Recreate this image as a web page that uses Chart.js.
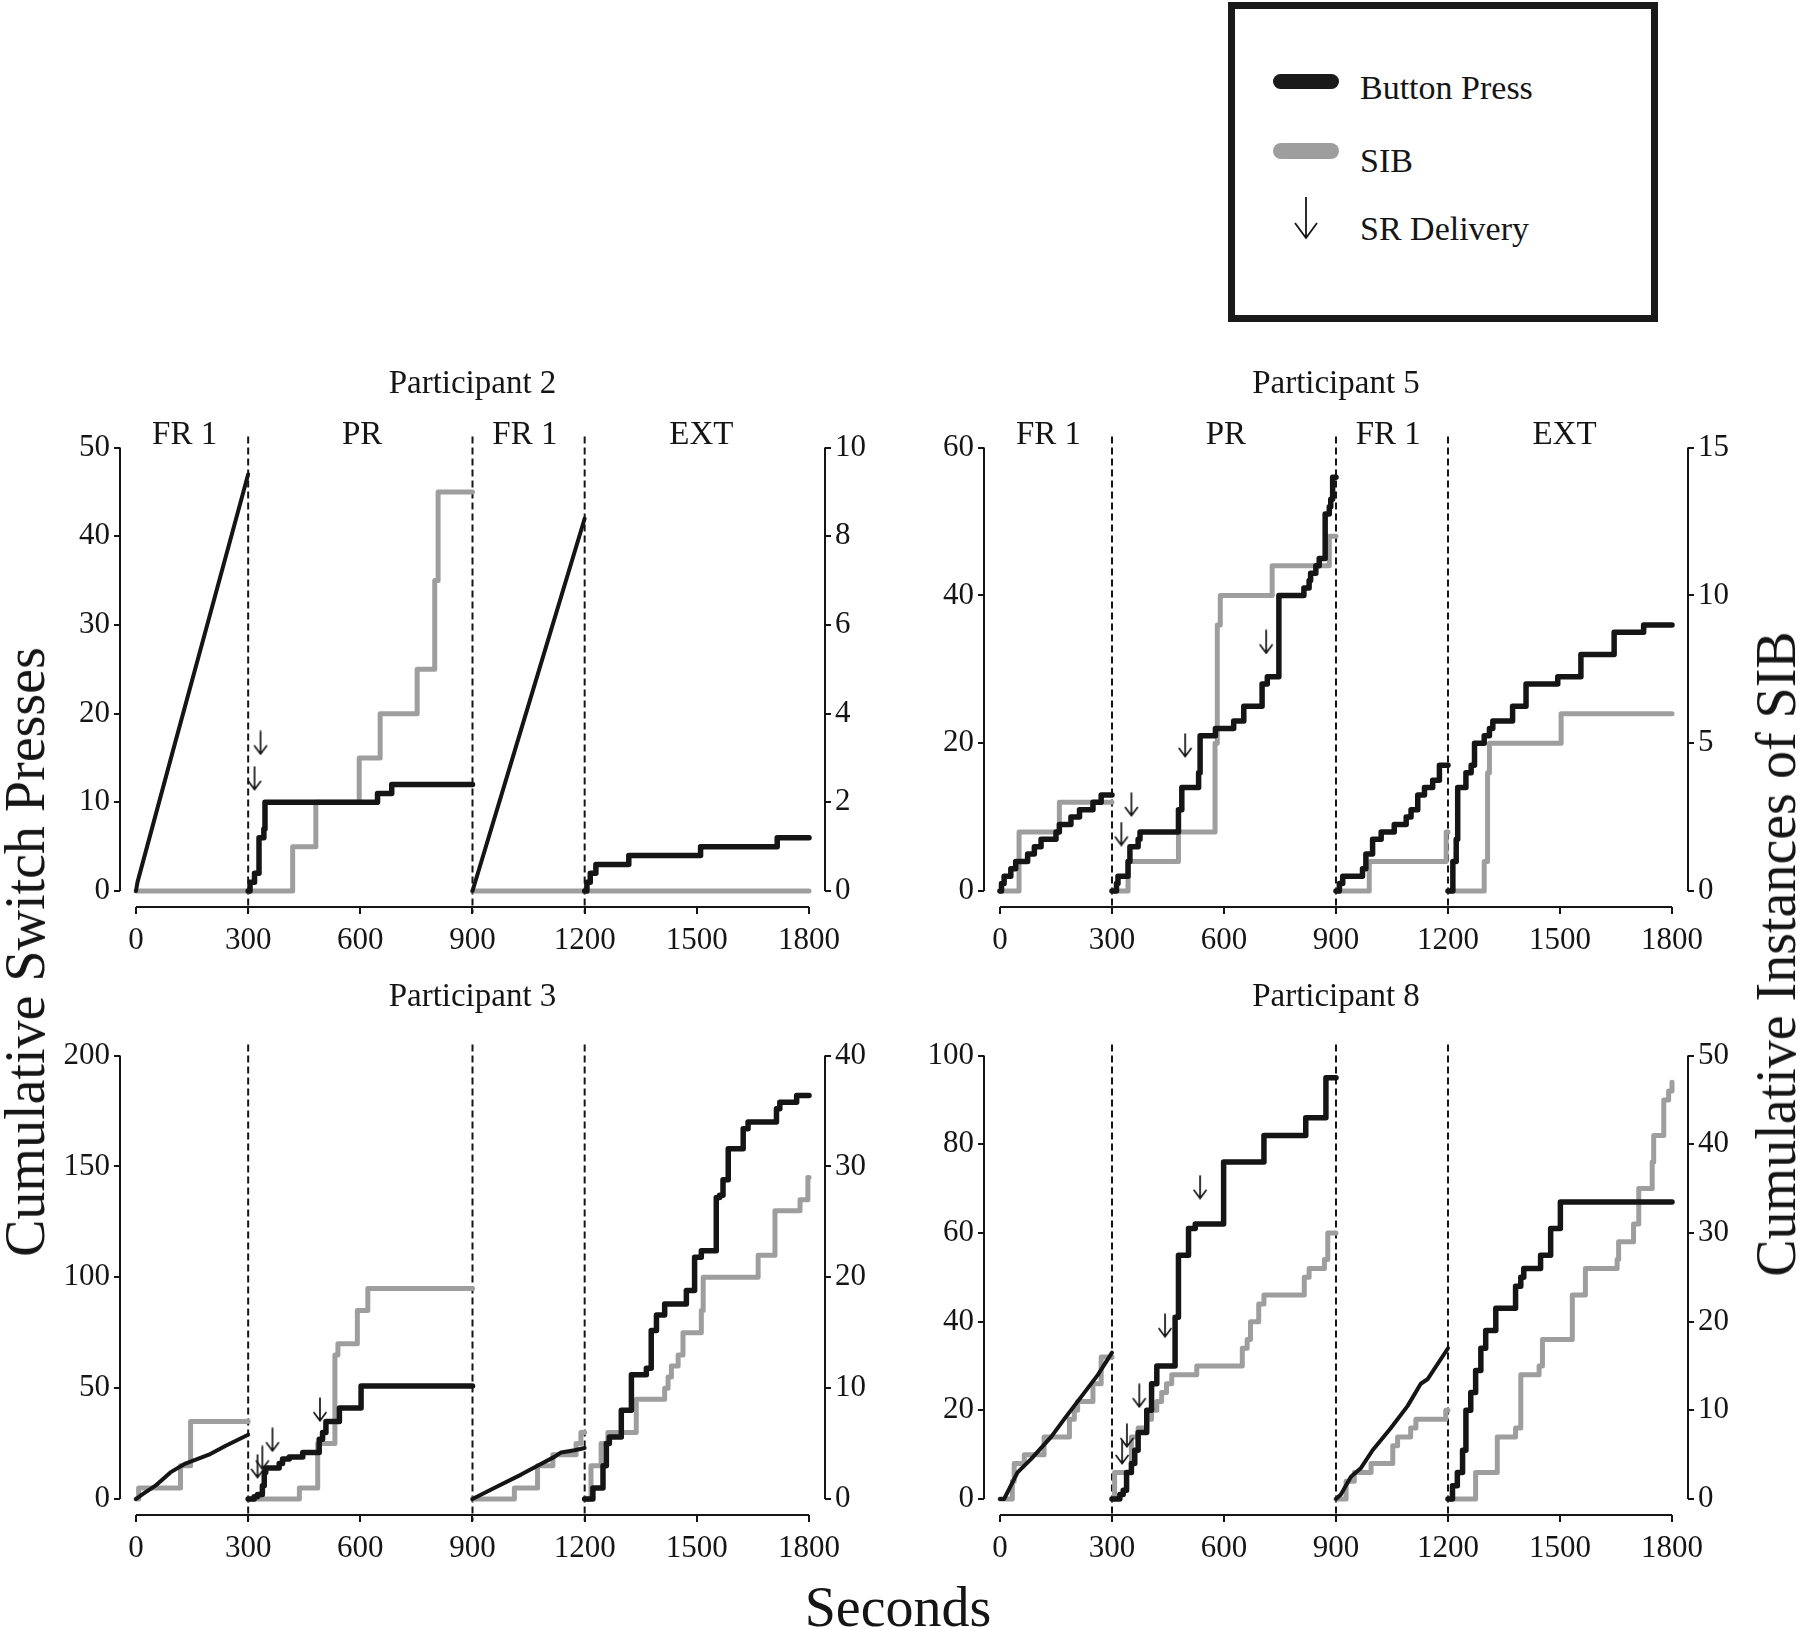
<!DOCTYPE html>
<html>
<head>
<meta charset="utf-8">
<script src="https://cdn.jsdelivr.net/npm/chart.js@4.4.1/dist/chart.umd.min.js"></script>
<style>
  body { margin: 0; background: #fff; }
  #page { position: relative; width: 1800px; height: 1627px; overflow: hidden;
          font-family: 'Liberation Serif', 'Times New Roman', serif; color: #151515; }
  canvas { position: absolute; }
  .lbl { position: absolute; white-space: nowrap; line-height: 1; }
  .big { font-size: 56px; transform: translate(-50%, -50%); }
  .vt { transform: translate(-50%, -50%) rotate(-90deg); }
  .key { font-size: 34px; left: 1360px; }
  .sw { position: absolute; left: 1273px; width: 66px; border-radius: 8px; }
  #legend { position: absolute; left: 1228px; top: 2px; width: 430px; height: 320px;
            border: 7px solid #1a1a1a; box-sizing: border-box; }
</style>
</head>
<body>
<div id="page">
  <div id="legend"></div>
  <div class="sw" style="top:74px;height:15px;background:#1a1a1a"></div>
  <div class="lbl key" style="top:71px">Button Press</div>
  <div class="sw" style="top:143px;height:16px;background:#9e9e9e"></div>
  <div class="lbl key" style="top:144px">SIB</div>
  <svg style="position:absolute;left:1290px;top:192px" width="32" height="50">
    <path d="M16 5 V46 M5 31 L16 46 L27 31" fill="none" stroke="#151515" stroke-width="1.8"/>
  </svg>
  <div class="lbl key" style="top:212px">SR Delivery</div>

  <canvas id="p2" width="900" height="630" style="left:0;top:330px"></canvas>
  <canvas id="p5" width="900" height="630" style="left:900px;top:330px"></canvas>
  <canvas id="p3" width="900" height="630" style="left:0;top:960px"></canvas>
  <canvas id="p8" width="900" height="630" style="left:900px;top:960px"></canvas>

  <div class="lbl big vt" style="left:25px;top:952px">Cumulative Switch Presses</div>
  <div class="lbl big vt" style="left:1776px;top:954px">Cumulative Instances of SIB</div>
  <div class="lbl big" style="left:898px;top:1607px">Seconds</div>
</div>
<script>
// shared time axis and phases
const timeTicks = [0, 300, 600, 900, 1200, 1500, 1800];
const phaseEdges = [300, 900, 1200];
const phaseNames = ['FR 1', 'PR', 'FR 1', 'EXT'];
const phaseLabelAt = [130, 605, 1040, 1512];

// Participant 2 -- each series is [FR 1, PR, FR 1, EXT] segments of [seconds, cumulative]
const p2PressTicks = [0, 10, 20, 30, 40, 50];
const p2SibTicks = [0, 2, 4, 6, 8, 10];
const p2Press = [
  [[0, 0], [4, 1], [100, 16], [200, 31.5], [300, 47]],
  [[300, 0], [305, 1], [317, 2], [329, 6], [342, 7], [345, 10], [646, 11], [684, 12], [900, 12]],
  [[900, 0], [1000, 14], [1100, 28], [1200, 42]],
  [[1200, 0], [1206, 1], [1215, 2], [1230, 3], [1318, 4], [1510, 5], [1715, 6], [1800, 6]]
];
const p2Sib = [
  [[0, 0], [300, 0]],
  [[300, 0], [419, 1], [481, 2], [597, 3], [653, 4], [752, 5], [799, 7], [808, 9], [900, 9]],
  [[900, 0], [1200, 0]],
  [[1200, 0], [1800, 0]]
];
const p2Sr = [[317, 12.7], [333, 16.7]];

// Participant 5
const p5PressTicks = [0, 20, 40, 60];
const p5SibTicks = [0, 5, 10, 15];
const p5Press = [
  [[0, 0], [4, 1], [11, 2], [29, 3], [42, 4], [74, 5], [92, 6], [110, 7], [150, 8], [159, 9], [190, 10], [213, 11], [249, 12], [271, 13], [300, 13]],
  [[300, 0], [312, 1], [316, 2], [343, 4], [348, 6], [370, 7], [375, 8], [478, 11], [487, 14], [532, 16], [536, 21], [577, 22], [626, 23], [653, 25], [702, 28], [716, 29], [747, 40], [814, 41], [828, 42], [832, 43], [846, 44], [855, 45], [871, 51], [882, 52], [886, 53], [891, 56], [900, 56]],
  [[900, 0], [909, 1], [918, 2], [971, 3], [980, 5], [998, 7], [1021, 8], [1056, 9], [1088, 10], [1101, 11], [1119, 13], [1137, 14], [1159, 15], [1177, 17], [1200, 17]],
  [[1200, 0], [1213, 4], [1222, 7], [1226, 14], [1248, 16], [1262, 17], [1271, 20], [1297, 21], [1311, 22], [1320, 23], [1373, 25], [1409, 28], [1494, 29], [1556, 32], [1645, 35], [1724, 36], [1800, 36]]
];
const p5Sib = [
  [[0, 0], [51, 2], [159, 3], [300, 3]],
  [[300, 0], [343, 1], [478, 2], [576, 5], [582, 9], [590, 10], [729, 11], [882, 12], [900, 12]],
  [[900, 0], [989, 1], [1195, 2], [1200, 2]],
  [[1200, 0], [1297, 1], [1306, 4], [1311, 5], [1503, 6], [1800, 6]]
];
const p5Sr = [[325, 7.7], [352, 11.7], [496, 19.7], [713, 33.7]];

// Participant 3
const p3PressTicks = [0, 50, 100, 150, 200];
const p3SibTicks = [0, 10, 20, 30, 40];
const p3Press = [
  [[0, 0], [16, 2], [52, 6], [92, 12], [132, 16], [195, 20], [240, 24], [300, 29]],
  [[300, 0], [316, 1], [325, 2], [338, 6], [343, 12], [347, 14], [383, 16], [392, 18], [410, 19], [446, 21], [490, 27], [499, 30], [508, 35], [544, 41], [602, 51], [900, 51]],
  [[900, 0], [958, 5], [1030, 11], [1074, 15], [1119, 19], [1137, 21], [1173, 22], [1200, 23]],
  [[1200, 0], [1222, 5], [1249, 15], [1258, 25], [1266, 28], [1298, 40], [1325, 56], [1365, 59], [1378, 76], [1392, 83], [1414, 88], [1472, 94], [1494, 109], [1512, 112], [1552, 136], [1561, 137], [1570, 144], [1584, 158], [1624, 167], [1637, 170], [1713, 176], [1722, 179], [1767, 182], [1800, 182]]
];
const p3Sib = [
  [[0, 0], [7, 1], [119, 3], [146, 7], [300, 7]],
  [[300, 0], [437, 1], [486, 5], [532, 13], [540, 14], [592, 17], [620, 19], [900, 19]],
  [[900, 0], [1012, 1], [1074, 3], [1115, 4], [1177, 5], [1190, 6], [1200, 6]],
  [[1200, 0], [1217, 3], [1244, 5], [1262, 6], [1338, 9], [1414, 10], [1423, 11], [1432, 12], [1450, 13], [1463, 15], [1512, 17], [1517, 20], [1664, 22], [1709, 26], [1776, 27], [1797, 29], [1800, 29]]
];
const p3Sr = [[325, 14.7], [338, 18.5], [365, 26.7], [492, 40.3]];

// Participant 8
const p8PressTicks = [0, 20, 40, 60, 80, 100];
const p8SibTicks = [0, 10, 20, 30, 40, 50];
const p8Press = [
  [[0, 0], [11, 0], [47, 6], [83, 9], [137, 14], [172, 18], [226, 24], [262, 28], [300, 33]],
  [[300, 0], [321, 1], [330, 2], [339, 6], [352, 8], [361, 11], [370, 15], [393, 20], [406, 26], [420, 30], [469, 41], [478, 55], [505, 61], [523, 62], [599, 76], [707, 82], [819, 86], [873, 95], [900, 95]],
  [[900, 0], [913, 1], [940, 5], [967, 7], [998, 11], [1047, 16], [1092, 21], [1127, 26], [1145, 27], [1200, 34]],
  [[1200, 0], [1212, 3], [1225, 6], [1239, 11], [1248, 20], [1261, 24], [1274, 29], [1288, 34], [1301, 38], [1328, 43], [1381, 48], [1395, 50], [1403, 52], [1448, 55], [1475, 61], [1501, 67], [1800, 67]]
];
const p8Sib = [
  [[0, 0], [33, 2], [38, 4], [65, 5], [118, 7], [186, 9], [199, 10], [208, 11], [249, 13], [271, 16], [300, 16]],
  [[300, 0], [307, 3], [352, 7], [370, 8], [393, 9], [406, 10], [420, 11], [433, 12], [446, 13], [460, 14], [527, 15], [649, 17], [662, 18], [671, 20], [693, 22], [707, 23], [815, 25], [828, 26], [869, 27], [878, 30], [900, 30]],
  [[900, 0], [927, 2], [949, 3], [994, 4], [1052, 6], [1065, 7], [1100, 8], [1114, 9], [1194, 10], [1200, 10]],
  [[1200, 0], [1274, 3], [1332, 7], [1381, 8], [1395, 14], [1444, 15], [1453, 18], [1533, 23], [1568, 26], [1653, 27], [1657, 29], [1697, 31], [1711, 35], [1747, 38], [1751, 41], [1778, 45], [1791, 46], [1800, 47]]
];
const p8Sr = [[327, 10.5], [340, 14.3], [373, 23.3], [442, 39.1], [536, 70.3]];

const INK = '#151515';
const GREY = '#9e9e9e';
const SERIF = "'Liberation Serif', 'Times New Roman', serif";
const GAP = 16;          // axes sit detached from the plotted region
const TITLE_SIZE = 33;

Chart.defaults.font.family = SERIF;
Chart.defaults.color = INK;

// little down arrow used as point style for reinforcer deliveries
const arrow = document.createElement('canvas');
arrow.width = 16; arrow.height = 25;
(function () {
  const g = arrow.getContext('2d');
  g.strokeStyle = INK; g.lineWidth = 1.7; g.lineCap = 'round';
  g.beginPath();
  g.moveTo(8, 1); g.lineTo(8, 23.5);
  g.moveTo(2, 15.5); g.lineTo(8, 23.5); g.lineTo(14, 15.5);
  g.stroke();
})();

const panelDecor = {
  id: 'panelDecor',
  beforeDatasetsDraw(chart, args, opts) {
    const { ctx, chartArea: a } = chart;
    const { x, y, y2 } = chart.scales;
    ctx.save();
    ctx.strokeStyle = INK;
    ctx.lineWidth = 2;
    ctx.beginPath();
    ctx.moveTo(x.getPixelForValue(x.ticks[0].value), a.bottom);
    ctx.lineTo(x.getPixelForValue(x.ticks[x.ticks.length - 1].value), a.bottom);
    ctx.moveTo(a.left, y.getPixelForValue(y.ticks[0].value));
    ctx.lineTo(a.left, y.getPixelForValue(y.ticks[y.ticks.length - 1].value));
    ctx.moveTo(a.right, y2.getPixelForValue(y2.ticks[0].value));
    ctx.lineTo(a.right, y2.getPixelForValue(y2.ticks[y2.ticks.length - 1].value));
    ctx.stroke();

    ctx.setLineDash([7, 4]);
    ctx.beginPath();
    phaseEdges.forEach(t => {
      const px = x.getPixelForValue(t);
      ctx.moveTo(px, a.top - 11);
      ctx.lineTo(px, a.bottom + 6);
    });
    ctx.stroke();
    ctx.setLineDash([]);

    if (opts.phases) {
      ctx.font = `${TITLE_SIZE}px ${SERIF}`;
      ctx.fillStyle = INK;
      ctx.textAlign = 'center';
      ctx.textBaseline = 'middle';
      phaseNames.forEach((n, i) => ctx.fillText(n, x.getPixelForValue(phaseLabelAt[i]), a.top - 12));
    }
    ctx.restore();
  }
};

function segment(points, axis, color, width, stepped) {
  return {
    data: points.map(([x, y]) => ({ x, y })),
    yAxisID: axis,
    borderColor: color,
    borderWidth: width,
    // hold the previous count, then jump at the event time
    stepped: stepped ? 'before' : false,
    pointRadius: 0,
    fill: false,
    tension: 0,
    borderCapStyle: 'round',
    borderJoinStyle: 'round'
  };
}

function tickSet(values) {
  return scale => { scale.ticks = values.map(v => ({ value: v })); };
}

function drawPanel(p) {
  const canvas = document.getElementById(p.id);
  const titleH = p.titlePad[0] + TITLE_SIZE * 1.2 + p.titlePad[1];
  const plotH = canvas.height - p.xH - titleH - GAP;
  const plotW = canvas.width - p.leftW - p.rightW - 2 * GAP;
  const xPad = 1800 * GAP / plotW;
  const yMax = p.pressTicks[p.pressTicks.length - 1];
  const y2Max = p.sibTicks[p.sibTicks.length - 1];

  const datasets = [{
    data: p.sr.map(([x, y]) => ({ x, y })),
    yAxisID: 'y',
    showLine: false,
    pointStyle: arrow,
    pointRadius: 6
  }];
  p.press.forEach((s, i) => {
    const smooth = p.smooth.includes(i);
    datasets.push(segment(s, 'y', INK, smooth ? 4 : 5.5, !smooth));
  });
  p.sib.forEach(s => datasets.push(segment(s, 'y2', GREY, 5, true)));

  const grid = { drawOnChartArea: false, drawTicks: true, tickLength: 7, color: INK, lineWidth: 2, tickWidth: 2, tickColor: INK };
  const ticks = { font: { size: 31 }, color: INK, padding: 4, autoSkip: false, maxRotation: 0, callback: v => String(v) };

  new Chart(canvas, {
    type: 'line',
    data: { datasets },
    options: {
      responsive: false,
      animation: false,
      devicePixelRatio: 1,
      layout: { padding: 0 },
      scales: {
        x: {
          type: 'linear', min: -xPad, max: 1800 + xPad,
          afterBuildTicks: tickSet(timeTicks),
          afterFit: s => { s.height = p.xH; },
          grid, border: { display: false }, ticks: { ...ticks, padding: 8 }
        },
        y: {
          type: 'linear', position: 'left', min: -yMax * GAP / plotH, max: yMax,
          afterBuildTicks: tickSet(p.pressTicks),
          afterFit: s => { s.width = p.leftW; },
          grid: { ...grid, tickLength: 6 }, border: { display: false }, ticks
        },
        y2: {
          type: 'linear', position: 'right', min: -y2Max * GAP / plotH, max: y2Max,
          afterBuildTicks: tickSet(p.sibTicks),
          afterFit: s => { s.width = p.rightW; },
          grid: { ...grid, tickLength: 6 }, border: { display: false }, ticks
        }
      },
      plugins: {
        legend: { display: false },
        tooltip: { enabled: false },
        title: {
          display: true, text: p.title, fullSize: false, color: INK,
          font: { size: TITLE_SIZE, weight: 'normal', lineHeight: 1.2 },
          padding: { top: p.titlePad[0], bottom: p.titlePad[1] }
        },
        panelDecor: { phases: p.phases }
      }
    },
    plugins: [panelDecor]
  });
}

const topRow = { titlePad: [35, 43], xH: 53, phases: true };
const bottomRow = { titlePad: [18, 38], xH: 75, phases: false };
const leftCol = { leftW: 120, rightW: 75 };
const rightCol = { leftW: 84, rightW: 112 };

drawPanel({ id: 'p2', title: 'Participant 2', ...topRow, ...leftCol, pressTicks: p2PressTicks, sibTicks: p2SibTicks, press: p2Press, sib: p2Sib, sr: p2Sr, smooth: [0, 2] });
drawPanel({ id: 'p5', title: 'Participant 5', ...topRow, ...rightCol, pressTicks: p5PressTicks, sibTicks: p5SibTicks, press: p5Press, sib: p5Sib, sr: p5Sr, smooth: [] });
drawPanel({ id: 'p3', title: 'Participant 3', ...bottomRow, ...leftCol, pressTicks: p3PressTicks, sibTicks: p3SibTicks, press: p3Press, sib: p3Sib, sr: p3Sr, smooth: [0, 2] });
drawPanel({ id: 'p8', title: 'Participant 8', ...bottomRow, ...rightCol, pressTicks: p8PressTicks, sibTicks: p8SibTicks, press: p8Press, sib: p8Sib, sr: p8Sr, smooth: [0, 2] });
</script>
</body>
</html>
